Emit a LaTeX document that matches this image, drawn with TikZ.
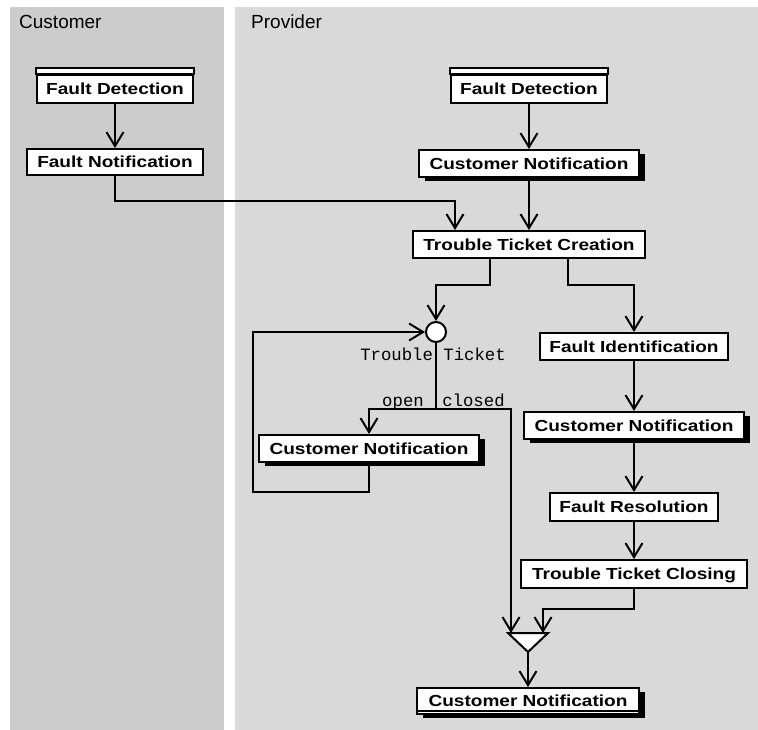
\documentclass[tikz,border=0pt]{standalone}
\usepackage{fontspec}
\setmainfont{Liberation Sans}
\newfontfamily\boxfont{Liberation Sans}[FakeStretch=1.19]
\newfontfamily\monofont{Liberation Mono}
\usetikzlibrary{arrows.meta,shadows}
\definecolor{custlane}{HTML}{CCCCCC}
\definecolor{provlane}{HTML}{D9D9D9}
\begin{document}
\begin{tikzpicture}[x=1pt,y=1pt,
  lw/.style={line width=2pt},
  act/.style={draw, fill=white, line width=2pt, inner sep=0pt,
    minimum height=27pt, text height=11.5pt, text depth=0pt,
    font=\boxfont\bfseries\fontsize{16}{18}\selectfont},
  shad/.style={drop shadow={shadow xshift=6pt, shadow yshift=-4pt, fill=black, opacity=1}},
  arr/.style={line width=2pt, -{Straight Barb[length=14pt,width=17pt]}},
  mono/.style={inner sep=0pt, font=\monofont\fontsize{17.3}{20}\selectfont},
  lanelabel/.style={inner sep=0pt, anchor=base west, font=\fontsize{19}{22}\selectfont}]
\useasboundingbox (0,0) rectangle (758,-730);
\fill[custlane] (10,-7) rectangle (224,-730);
\fill[provlane] (235,-7) rectangle (758,-730);
\node[lanelabel] (lc) at (19,-28.7) {Customer};
\node[lanelabel] (lp) at (251,-28.7) {Provider};

% activities
\node[act, minimum width=156pt, minimum height=28pt] (cfd) at (115,-89) {Fault Detection};
\draw[lw, fill=white] (cfd.north west) rectangle ([yshift=6pt]cfd.north east);
\node[act, minimum width=176pt, minimum height=26pt] (cfn) at (115,-162) {Fault Notification};
\node[act, minimum width=156pt, minimum height=28pt] (pfd) at (529,-89) {Fault Detection};
\draw[lw, fill=white] (pfd.north west) rectangle ([yshift=6pt]pfd.north east);
\node[act, shad, minimum width=220pt] (pcn1) at (529,-163.5) {Customer Notification};
\node[act, minimum width=232pt] (ttc) at (529,-244.5) {Trouble Ticket Creation};
\node[circle, draw, fill=white, lw, minimum size=20pt, inner sep=0pt] (dec) at (436,-332) {};
\node[act, minimum width=188pt] (fi) at (634,-346.5) {Fault Identification};
\node[act, shad, minimum width=220pt] (cn2) at (369,-448.5) {Customer Notification};
\node[act, shad, minimum width=220pt] (cn3) at (634,-425.5) {Customer Notification};
\node[act, minimum width=168pt, minimum height=28pt] (fr) at (634,-507) {Fault Resolution};
\node[act, minimum width=226pt, minimum height=28pt] (ttcl) at (634,-574) {Trouble Ticket Closing};
\node[act, shad, minimum width=222pt, minimum height=26pt] (cn4) at (528,-701) {Customer Notification};
\draw[lw] ([yshift=4pt]cn4.south west) -- ([yshift=4pt]cn4.south east);

% merge
\coordinate (mtl) at (508,-633);
\coordinate (mtr) at (548,-633);
\coordinate (mb) at (528,-652);
\coordinate (mL) at (511,-633);
\coordinate (mR) at (543,-633);
\draw[lw, fill=white, line join=miter] (mtl) -- (mtr) -- (mb) -- cycle;

% labels
\node[mono, anchor=base] (ttlabel) at (433,-360) {Trouble Ticket};
\node[mono, anchor=base] (openlbl) at (403,-406) {open};
\node[mono, anchor=base] (closedlbl) at (473.5,-406) {closed};

% connectors
\draw[arr] (cfd.south) -- (cfd.south |- cfn.north);
\draw[arr] (cfn.south) -- ++(0,-25) -| ([xshift=-74pt]ttc.north);
\draw[arr] (pfd.south) -- (pfd.south |- pcn1.north);
\draw[arr] (pcn1.south) -- (pcn1.south |- ttc.north);
\draw[arr] ([xshift=-39pt]ttc.south) -- ++(0,-26) -| (dec.north);
\draw[arr] ([xshift=39pt]ttc.south) -- ++(0,-26) -| (fi.north);
\coordinate (loop) at (253,-492);
\draw[arr] (cn2.south) |- (loop) |- (dec.west);
\coordinate (split) at (436,-409);
\draw[lw] (dec.south) -- (split);
\draw[arr] (split) -| (cn2.north);
\draw[arr] (split) -| (mL);
\draw[arr] (fi.south) -- (fi.south |- cn3.north);
\draw[arr] (cn3.south) -- (cn3.south |- fr.north);
\draw[arr] (fr.south) -- (fr.south |- ttcl.north);
\draw[arr] (ttcl.south) -- ++(0,-20) -| (mR);
\draw[arr] (mb) -- (mb |- cn4.north);
\end{tikzpicture}
\end{document}
